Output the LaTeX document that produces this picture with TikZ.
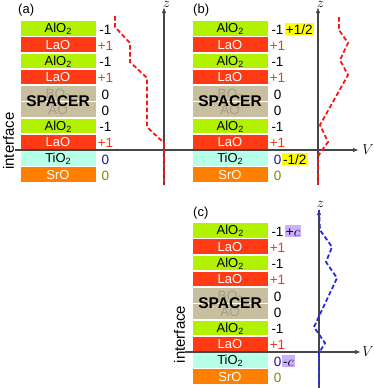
\documentclass[tikz,border=0pt]{standalone}
\usepackage{fontspec}
\setmainfont{Liberation Sans}
\usetikzlibrary{arrows.meta}
\definecolor{alo}{RGB}{178,242,0}
\definecolor{lao}{RGB}{255,58,20}
\definecolor{tio}{RGB}{182,255,232}
\definecolor{sro}{RGB}{255,128,0}
\definecolor{spc}{RGB}{200,190,160}
\definecolor{ghost}{RGB}{168,158,138}
\definecolor{plus}{RGB}{255,50,25}
\definecolor{zblue}{RGB}{20,20,160}
\definecolor{olive}{RGB}{140,130,0}
\definecolor{axisc}{RGB}{70,70,70}
\definecolor{hly}{RGB}{255,255,0}
\definecolor{hlv}{RGB}{205,175,255}
\definecolor{dred}{RGB}{255,20,20}
\definecolor{dblue}{RGB}{40,40,235}
\newcommand\sbt{\raisebox{-0.3ex}{\fontsize{9}{9}\selectfont 2}}
\tikzset{
  layer/.style={rectangle, minimum width=75pt, minimum height=14.5pt, inner sep=0pt,
    font=\fontsize{13}{13}\selectfont, text height=9.3pt, text depth=0pt},
  lbl/.style={inner sep=0pt, font=\fontsize{13.5}{13.5}\selectfont, text height=9.6pt, text depth=0pt},
  hl/.style={anchor=west, inner xsep=1.2pt, inner ysep=1.3pt, font=\fontsize{13.5}{13.5}\selectfont,
    text height=9.6pt, text depth=0pt},
  axisline/.style={draw=axisc, line width=1.2pt, -{Latex[length=6pt,width=4.5pt]}},
  dashline/.style={line width=1.8pt, dash pattern=on 4.5pt off 2.5pt},
  spacertext/.style={font=\bfseries\fontsize{15.5}{15.5}\selectfont, inner sep=0pt},
  panel/.style={anchor=west, inner sep=0pt, font=\fontsize{13}{13}\selectfont},
  iface/.style={rotate=90, inner sep=0pt, font=\fontsize{15}{15}\selectfont},
  axlbl/.style={inner sep=0pt, font=\fontsize{14}{14}\selectfont},
}
% #1 x centre, #2 top, #3 prefix
\newcommand\stackat[3]{%
  \node[layer, fill=alo] (#3r1) at (#1, #2+7.25) {AlO\sbt};
  \node[layer, fill=lao, text=white] (#3r2) at (#1, #2+23.5) {LaO};
  \node[layer, fill=alo] (#3r3) at (#1, #2+39.75) {AlO\sbt};
  \node[layer, fill=lao, text=white] (#3r4) at (#1, #2+56) {LaO};
  \node[layer, fill=spc, minimum height=30.75pt] (#3sp) at (#1, #2+80.375) {};
  \draw[white, line width=0.6pt] (#3sp.west) -- (#3sp.east);
  \node[lbl, text=ghost] (#3g1) at (#1, #2+72.25) {BO\sbt};
  \node[lbl, text=ghost] (#3g2) at (#1, #2+88.5) {AO};
  \node[spacertext] (#3st) at (#1, #2+80.375) {SPACER};
  \node[layer, fill=alo] (#3r7) at (#1, #2+104.75) {AlO\sbt};
  \node[layer, fill=lao, text=white] (#3r8) at (#1, #2+121) {LaO};
  \node[layer, fill=tio] (#3r9) at (#1, #2+137.25) {TiO\sbt};
  \node[layer, fill=sro, text=white] (#3r10) at (#1, #2+153.5) {SrO};
  \node[lbl] (#3l1) at (#1+47.5, #2+8.25) {-1};
  \node[lbl, text=plus] (#3l2) at (#1+47.5, #2+24.5) {+1};
  \node[lbl] (#3l3) at (#1+47.5, #2+40.75) {-1};
  \node[lbl, text=plus] (#3l4) at (#1+47.5, #2+57) {+1};
  \node[lbl] (#3l5) at (#1+47.5, #2+73.25) {0};
  \node[lbl] (#3l6) at (#1+47.5, #2+89.5) {0};
  \node[lbl] (#3l7) at (#1+47.5, #2+105.75) {-1};
  \node[lbl, text=plus] (#3l8) at (#1+47.5, #2+122) {+1};
  \node[lbl, text=zblue] (#3l9) at (#1+47.5, #2+138.25) {0};
  \node[lbl, text=olive] (#3l10) at (#1+47.5, #2+154.5) {0};
}
\begin{document}
\begin{tikzpicture}[x=1pt, y=-1pt]
\useasboundingbox (0,0) rectangle (373,388);

% panel (a)
\stackat{58}{21}{a}
% panel (b)
\stackat{230}{21}{b}
% panel (c)
\stackat{230}{223}{c}

% highlights
\node[hl, fill=hly] (bh1) at ([xshift=0.8pt]bl1.east) {+1/2};
\node[hl, fill=hly] (bh9) at ([xshift=0.3pt]bl9.east) {-1/2};
\node[hl, fill=hlv] (ch1) at ([xshift=0.8pt]cl1.east) {+$c$};
\node[hl, fill=hlv] (ch9) at ([xshift=0.3pt]cl9.east) {-$c$};

% panel labels
\node[panel] (pa) at (18,10) {(a)};
\node[panel] (pb) at (193,10) {(b)};
\node[panel] (pc) at (193,213) {(c)};

% interface labels
\node[iface] (ia) at (8.5,141) {interface};
\node[iface] (ic) at (179.5,334.5) {interface};

% axes
\coordinate (za0) at (164,185);
\coordinate (za1) at (164,7);
\coordinate (zb0) at (318,185);
\coordinate (zb1) at (318,7);
\coordinate (zc0) at (319,388);
\coordinate (zc1) at (319,209);
\coordinate (va0) at (15,150);
\coordinate (va1) at (359,150);
\coordinate (vc0) at (185,352);
\coordinate (vc1) at (361,352);
\draw[axisline] (za0) -- (za1);
\draw[axisline] (zb0) -- (zb1);
\draw[axisline] (zc0) -- (zc1);
\draw[axisline] (va0) -- (va1);
\draw[axisline] (vc0) -- (vc1);
\node[axlbl, anchor=north] (za) at (166.5,1.5) {$z$};
\node[axlbl, anchor=north] (zb) at (320.5,1.5) {$z$};
\node[axlbl] (zc) at (320.5,204.5) {$z$};
\node[axlbl] (vab) at (368,149.5) {$V$};
\node[axlbl] (vc) at (368,351.5) {$V$};

% potential profiles
\draw[dashline, dred] (115,16) -- (115,27) -- (130,43) -- (130,62) -- (147,78)
  -- (147,127) -- (164,143) -- (164,185);
\draw[dashline, dred] (339,17) -- (339,30) -- (348,43) -- (340,60) -- (348,75)
  -- (320,125) -- (328,142) -- (320,153) -- (318,157) -- (318,185);
\draw[dashline, dblue] (319,210) -- (320,230) -- (332,247) -- (326,262) -- (337,278)
  -- (314,327) -- (325,343) -- (319,353) -- (319,387);
\end{tikzpicture}
\end{document}
